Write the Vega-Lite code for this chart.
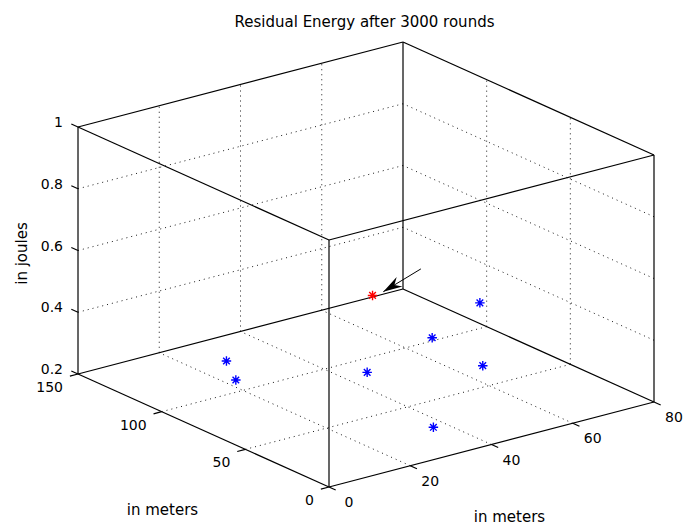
{
  "$schema": "https://vega.github.io/schema/vega-lite/v6.json",
  "width": 689,
  "height": 529,
  "padding": 0,
  "autosize": {"type": "none"},
  "background": "white",
  "config": {"view": {"stroke": null}},
  "title": {
    "text": "Residual Energy after 3000 rounds",
    "font": "DejaVu Sans",
    "fontSize": 15,
    "fontWeight": "normal",
    "color": "#000000",
    "anchor": "middle",
    "dx": 20,
    "dy": 34
  },
  "datasets": {
    "segments": [
      {"kind": "box", "x0": 0, "y0": 0, "z0": 0.2, "x1": 80, "y1": 0, "z1": 0.2},
      {"kind": "box", "x0": 0, "y0": 0, "z0": 0.2, "x1": 0, "y1": 150, "z1": 0.2},
      {"kind": "box", "x0": 80, "y0": 0, "z0": 0.2, "x1": 80, "y1": 150, "z1": 0.2},
      {"kind": "box", "x0": 0, "y0": 150, "z0": 0.2, "x1": 80, "y1": 150, "z1": 0.2},
      {"kind": "box", "x0": 0, "y0": 0, "z0": 1, "x1": 80, "y1": 0, "z1": 1},
      {"kind": "box", "x0": 0, "y0": 0, "z0": 1, "x1": 0, "y1": 150, "z1": 1},
      {"kind": "box", "x0": 80, "y0": 0, "z0": 1, "x1": 80, "y1": 150, "z1": 1},
      {"kind": "box", "x0": 0, "y0": 150, "z0": 1, "x1": 80, "y1": 150, "z1": 1},
      {"kind": "box", "x0": 0, "y0": 0, "z0": 0.2, "x1": 0, "y1": 0, "z1": 1},
      {"kind": "box", "x0": 80, "y0": 0, "z0": 0.2, "x1": 80, "y1": 0, "z1": 1},
      {"kind": "box", "x0": 0, "y0": 150, "z0": 0.2, "x1": 0, "y1": 150, "z1": 1},
      {"kind": "box", "x0": 80, "y0": 150, "z0": 0.2, "x1": 80, "y1": 150, "z1": 1},

      {"kind": "grid", "x0": 20, "y0": 0, "z0": 0.2, "x1": 20, "y1": 150, "z1": 0.2},
      {"kind": "grid", "x0": 40, "y0": 0, "z0": 0.2, "x1": 40, "y1": 150, "z1": 0.2},
      {"kind": "grid", "x0": 60, "y0": 0, "z0": 0.2, "x1": 60, "y1": 150, "z1": 0.2},
      {"kind": "grid", "x0": 0, "y0": 50, "z0": 0.2, "x1": 80, "y1": 50, "z1": 0.2},
      {"kind": "grid", "x0": 0, "y0": 100, "z0": 0.2, "x1": 80, "y1": 100, "z1": 0.2},
      {"kind": "grid", "x0": 20, "y0": 150, "z0": 0.2, "x1": 20, "y1": 150, "z1": 1},
      {"kind": "grid", "x0": 40, "y0": 150, "z0": 0.2, "x1": 40, "y1": 150, "z1": 1},
      {"kind": "grid", "x0": 60, "y0": 150, "z0": 0.2, "x1": 60, "y1": 150, "z1": 1},
      {"kind": "grid", "x0": 0, "y0": 150, "z0": 0.4, "x1": 80, "y1": 150, "z1": 0.4},
      {"kind": "grid", "x0": 0, "y0": 150, "z0": 0.6, "x1": 80, "y1": 150, "z1": 0.6},
      {"kind": "grid", "x0": 0, "y0": 150, "z0": 0.8, "x1": 80, "y1": 150, "z1": 0.8},
      {"kind": "grid", "x0": 80, "y0": 50, "z0": 0.2, "x1": 80, "y1": 50, "z1": 1},
      {"kind": "grid", "x0": 80, "y0": 100, "z0": 0.2, "x1": 80, "y1": 100, "z1": 1},
      {"kind": "grid", "x0": 80, "y0": 0, "z0": 0.4, "x1": 80, "y1": 150, "z1": 0.4},
      {"kind": "grid", "x0": 80, "y0": 0, "z0": 0.6, "x1": 80, "y1": 150, "z1": 0.6},
      {"kind": "grid", "x0": 80, "y0": 0, "z0": 0.8, "x1": 80, "y1": 150, "z1": 0.8},

      {"kind": "tick", "x0": 0, "y0": 0, "z0": 0.2, "x1": 0, "y1": -4, "z1": 0.2},
      {"kind": "tick", "x0": 20, "y0": 0, "z0": 0.2, "x1": 20, "y1": -4, "z1": 0.2},
      {"kind": "tick", "x0": 40, "y0": 0, "z0": 0.2, "x1": 40, "y1": -4, "z1": 0.2},
      {"kind": "tick", "x0": 60, "y0": 0, "z0": 0.2, "x1": 60, "y1": -4, "z1": 0.2},
      {"kind": "tick", "x0": 80, "y0": 0, "z0": 0.2, "x1": 80, "y1": -4, "z1": 0.2},
      {"kind": "tick", "x0": 0, "y0": 0, "z0": 0.2, "x1": -2, "y1": 0, "z1": 0.2},
      {"kind": "tick", "x0": 0, "y0": 50, "z0": 0.2, "x1": -2, "y1": 50, "z1": 0.2},
      {"kind": "tick", "x0": 0, "y0": 100, "z0": 0.2, "x1": -2, "y1": 100, "z1": 0.2},
      {"kind": "tick", "x0": 0, "y0": 150, "z0": 0.2, "x1": -2, "y1": 150, "z1": 0.2},
      {"kind": "tick", "x0": 0, "y0": 150, "z0": 0.2, "x1": 0, "y1": 154, "z1": 0.2},
      {"kind": "tick", "x0": 0, "y0": 150, "z0": 0.4, "x1": 0, "y1": 154, "z1": 0.4},
      {"kind": "tick", "x0": 0, "y0": 150, "z0": 0.6, "x1": 0, "y1": 154, "z1": 0.6},
      {"kind": "tick", "x0": 0, "y0": 150, "z0": 0.8, "x1": 0, "y1": 154, "z1": 0.8},
      {"kind": "tick", "x0": 0, "y0": 150, "z0": 1, "x1": 0, "y1": 154, "z1": 1}
    ],
    "tickLabels": [
      {"axis": "x", "text": "0", "x0": 0, "y0": 0, "z0": 0.2},
      {"axis": "x", "text": "20", "x0": 20, "y0": 0, "z0": 0.2},
      {"axis": "x", "text": "40", "x0": 40, "y0": 0, "z0": 0.2},
      {"axis": "x", "text": "60", "x0": 60, "y0": 0, "z0": 0.2},
      {"axis": "x", "text": "80", "x0": 80, "y0": 0, "z0": 0.2},
      {"axis": "y", "text": "0", "x0": 0, "y0": 0, "z0": 0.2},
      {"axis": "y", "text": "50", "x0": 0, "y0": 50, "z0": 0.2},
      {"axis": "y", "text": "100", "x0": 0, "y0": 100, "z0": 0.2},
      {"axis": "y", "text": "150", "x0": 0, "y0": 150, "z0": 0.2},
      {"axis": "z", "text": "0.2", "x0": 0, "y0": 150, "z0": 0.2},
      {"axis": "z", "text": "0.4", "x0": 0, "y0": 150, "z0": 0.4},
      {"axis": "z", "text": "0.6", "x0": 0, "y0": 150, "z0": 0.6},
      {"axis": "z", "text": "0.8", "x0": 0, "y0": 150, "z0": 0.8},
      {"axis": "z", "text": "1", "x0": 0, "y0": 150, "z0": 1}
    ],
    "axisTitles": [
      {"axis": "x", "text": "in meters", "x0": 40, "y0": 0, "z0": 0.2},
      {"axis": "y", "text": "in meters", "x0": 0, "y0": 75, "z0": 0.2},
      {"axis": "z", "text": "in joules", "x0": 0, "y0": 150, "z0": 0.6}
    ],
    "nodes": [
      {"role": "sink", "x0": 72.5, "y0": 150, "z0": 0.205},
      {"role": "sensor", "x0": 27.6, "y0": 128.3, "z0": 0.2},
      {"role": "sensor", "x0": 22.5, "y0": 110.3, "z0": 0.2},
      {"role": "sensor", "x0": 45.6, "y0": 87.9, "z0": 0.2},
      {"role": "sensor", "x0": 67.7, "y0": 102.7, "z0": 0.2},
      {"role": "sensor", "x0": 78, "y0": 99.2, "z0": 0.286},
      {"role": "sensor", "x0": 65.9, "y0": 68.1, "z0": 0.2},
      {"role": "sensor", "x0": 36.9, "y0": 27.2, "z0": 0.2}
    ],
    "pointer": [
      {"x0": 84.4, "y0": 150, "z0": 0.25, "x1": 75.15, "y1": 150, "z1": 0.208}
    ]
  },
  "layer": [
    {
      "data": {"name": "segments"},
      "transform": [
        {"filter": "datum.kind === 'grid'"},
        {"calculate": "4.0625*datum.x0 - 1.6733*datum.y0", "as": "h0"},
        {"calculate": "1.0625*datum.x0 + 0.7533*datum.y0 + 308.75*(datum.z0 - 0.2)", "as": "v0"},
        {"calculate": "4.0625*datum.x1 - 1.6733*datum.y1", "as": "h1"},
        {"calculate": "1.0625*datum.x1 + 0.7533*datum.y1 + 308.75*(datum.z1 - 0.2)", "as": "v1"}
      ],
      "mark": {"type": "rule", "color": "#000000", "strokeWidth": 1, "strokeDash": [1, 4], "opacity": 0.9},
      "encoding": {
        "x": {"field": "h0", "type": "quantitative", "scale": {"domain": [-329, 360], "nice": false, "zero": false}, "axis": null},
        "y": {"field": "v0", "type": "quantitative", "scale": {"domain": [-42, 487], "nice": false, "zero": false}, "axis": null},
        "x2": {"field": "h1"},
        "y2": {"field": "v1"}
      }
    },
    {
      "data": {"name": "segments"},
      "transform": [
        {"filter": "datum.kind !== 'grid'"},
        {"calculate": "4.0625*datum.x0 - 1.6733*datum.y0", "as": "h0"},
        {"calculate": "1.0625*datum.x0 + 0.7533*datum.y0 + 308.75*(datum.z0 - 0.2)", "as": "v0"},
        {"calculate": "4.0625*datum.x1 - 1.6733*datum.y1", "as": "h1"},
        {"calculate": "1.0625*datum.x1 + 0.7533*datum.y1 + 308.75*(datum.z1 - 0.2)", "as": "v1"}
      ],
      "mark": {"type": "rule", "color": "#000000", "strokeWidth": 1.2},
      "encoding": {
        "x": {"field": "h0", "type": "quantitative", "scale": {"domain": [-329, 360], "nice": false, "zero": false}, "axis": null},
        "y": {"field": "v0", "type": "quantitative", "scale": {"domain": [-42, 487], "nice": false, "zero": false}, "axis": null},
        "x2": {"field": "h1"},
        "y2": {"field": "v1"}
      }
    },
    {
      "data": {"name": "tickLabels"},
      "transform": [
        {"filter": "datum.axis === 'x'"},
        {"calculate": "4.0625*datum.x0 - 1.6733*datum.y0", "as": "h0"},
        {"calculate": "1.0625*datum.x0 + 0.7533*datum.y0 + 308.75*(datum.z0 - 0.2)", "as": "v0"}
      ],
      "mark": {"type": "text", "font": "DejaVu Sans", "fontSize": 14, "color": "#000000", "align": "center", "baseline": "middle", "dx": 20, "dy": 16},
      "encoding": {
        "x": {"field": "h0", "type": "quantitative", "scale": {"domain": [-329, 360], "nice": false, "zero": false}, "axis": null},
        "y": {"field": "v0", "type": "quantitative", "scale": {"domain": [-42, 487], "nice": false, "zero": false}, "axis": null},
        "text": {"field": "text"}
      }
    },
    {
      "data": {"name": "tickLabels"},
      "transform": [
        {"filter": "datum.axis === 'y'"},
        {"calculate": "4.0625*datum.x0 - 1.6733*datum.y0", "as": "h0"},
        {"calculate": "1.0625*datum.x0 + 0.7533*datum.y0 + 308.75*(datum.z0 - 0.2)", "as": "v0"}
      ],
      "mark": {"type": "text", "font": "DejaVu Sans", "fontSize": 14, "color": "#000000", "align": "right", "baseline": "middle", "dx": -15, "dy": 14},
      "encoding": {
        "x": {"field": "h0", "type": "quantitative", "scale": {"domain": [-329, 360], "nice": false, "zero": false}, "axis": null},
        "y": {"field": "v0", "type": "quantitative", "scale": {"domain": [-42, 487], "nice": false, "zero": false}, "axis": null},
        "text": {"field": "text"}
      }
    },
    {
      "data": {"name": "tickLabels"},
      "transform": [
        {"filter": "datum.axis === 'z'"},
        {"calculate": "4.0625*datum.x0 - 1.6733*datum.y0", "as": "h0"},
        {"calculate": "1.0625*datum.x0 + 0.7533*datum.y0 + 308.75*(datum.z0 - 0.2)", "as": "v0"}
      ],
      "mark": {"type": "text", "font": "DejaVu Sans", "fontSize": 14, "color": "#000000", "align": "right", "baseline": "middle", "dx": -15, "dy": -4},
      "encoding": {
        "x": {"field": "h0", "type": "quantitative", "scale": {"domain": [-329, 360], "nice": false, "zero": false}, "axis": null},
        "y": {"field": "v0", "type": "quantitative", "scale": {"domain": [-42, 487], "nice": false, "zero": false}, "axis": null},
        "text": {"field": "text"}
      }
    },
    {
      "data": {"name": "axisTitles"},
      "transform": [
        {"filter": "datum.axis === 'x'"},
        {"calculate": "4.0625*datum.x0 - 1.6733*datum.y0", "as": "h0"},
        {"calculate": "1.0625*datum.x0 + 0.7533*datum.y0 + 308.75*(datum.z0 - 0.2)", "as": "v0"}
      ],
      "mark": {"type": "text", "font": "DejaVu Sans", "fontSize": 15, "color": "#000000", "align": "center", "baseline": "middle", "dx": 18, "dy": 72},
      "encoding": {
        "x": {"field": "h0", "type": "quantitative", "scale": {"domain": [-329, 360], "nice": false, "zero": false}, "axis": null},
        "y": {"field": "v0", "type": "quantitative", "scale": {"domain": [-42, 487], "nice": false, "zero": false}, "axis": null},
        "text": {"field": "text"}
      }
    },
    {
      "data": {"name": "axisTitles"},
      "transform": [
        {"filter": "datum.axis === 'y'"},
        {"calculate": "4.0625*datum.x0 - 1.6733*datum.y0", "as": "h0"},
        {"calculate": "1.0625*datum.x0 + 0.7533*datum.y0 + 308.75*(datum.z0 - 0.2)", "as": "v0"}
      ],
      "mark": {"type": "text", "font": "DejaVu Sans", "fontSize": 15, "color": "#000000", "align": "center", "baseline": "middle", "dx": -41, "dy": 79},
      "encoding": {
        "x": {"field": "h0", "type": "quantitative", "scale": {"domain": [-329, 360], "nice": false, "zero": false}, "axis": null},
        "y": {"field": "v0", "type": "quantitative", "scale": {"domain": [-42, 487], "nice": false, "zero": false}, "axis": null},
        "text": {"field": "text"}
      }
    },
    {
      "data": {"name": "axisTitles"},
      "transform": [
        {"filter": "datum.axis === 'z'"},
        {"calculate": "4.0625*datum.x0 - 1.6733*datum.y0", "as": "h0"},
        {"calculate": "1.0625*datum.x0 + 0.7533*datum.y0 + 308.75*(datum.z0 - 0.2)", "as": "v0"}
      ],
      "mark": {"type": "text", "font": "DejaVu Sans", "fontSize": 15, "color": "#000000", "align": "center", "baseline": "middle", "angle": 270, "dx": -3, "dy": -56},
      "encoding": {
        "x": {"field": "h0", "type": "quantitative", "scale": {"domain": [-329, 360], "nice": false, "zero": false}, "axis": null},
        "y": {"field": "v0", "type": "quantitative", "scale": {"domain": [-42, 487], "nice": false, "zero": false}, "axis": null},
        "text": {"field": "text"}
      }
    },
    {
      "data": {"name": "pointer"},
      "transform": [
        {"calculate": "4.0625*datum.x0 - 1.6733*datum.y0", "as": "h0"},
        {"calculate": "1.0625*datum.x0 + 0.7533*datum.y0 + 308.75*(datum.z0 - 0.2)", "as": "v0"},
        {"calculate": "4.0625*datum.x1 - 1.6733*datum.y1", "as": "h1"},
        {"calculate": "1.0625*datum.x1 + 0.7533*datum.y1 + 308.75*(datum.z1 - 0.2)", "as": "v1"}
      ],
      "mark": {"type": "rule", "color": "#000000", "strokeWidth": 1},
      "encoding": {
        "x": {"field": "h0", "type": "quantitative", "scale": {"domain": [-329, 360], "nice": false, "zero": false}, "axis": null},
        "y": {"field": "v0", "type": "quantitative", "scale": {"domain": [-42, 487], "nice": false, "zero": false}, "axis": null},
        "x2": {"field": "h1"},
        "y2": {"field": "v1"}
      }
    },
    {
      "data": {"name": "pointer"},
      "transform": [
        {"calculate": "4.0625*datum.x1 - 1.6733*datum.y1", "as": "h1"},
        {"calculate": "1.0625*datum.x1 + 0.7533*datum.y1 + 308.75*(datum.z1 - 0.2)", "as": "v1"}
      ],
      "mark": {"type": "point", "shape": "M0,0L0.65,2.2L0,1.5L-0.65,2.2Z", "filled": true, "color": "#000000", "opacity": 1, "size": 300, "angle": 238.75},
      "encoding": {
        "x": {"field": "h1", "type": "quantitative", "scale": {"domain": [-329, 360], "nice": false, "zero": false}, "axis": null},
        "y": {"field": "v1", "type": "quantitative", "scale": {"domain": [-42, 487], "nice": false, "zero": false}, "axis": null}
      }
    },
    {
      "data": {"name": "nodes"},
      "transform": [
        {"calculate": "4.0625*datum.x0 - 1.6733*datum.y0", "as": "h0"},
        {"calculate": "1.0625*datum.x0 + 0.7533*datum.y0 + 308.75*(datum.z0 - 0.2)", "as": "v0"}
      ],
      "mark": {"type": "point", "shape": "M0,-1L0,1M-1,0L1,0M-0.7,-0.7L0.7,0.7M-0.7,0.7L0.7,-0.7", "filled": false, "strokeWidth": 1.4, "opacity": 1, "size": 90},
      "encoding": {
        "x": {"field": "h0", "type": "quantitative", "scale": {"domain": [-329, 360], "nice": false, "zero": false}, "axis": null},
        "y": {"field": "v0", "type": "quantitative", "scale": {"domain": [-42, 487], "nice": false, "zero": false}, "axis": null},
        "color": {"field": "role", "type": "nominal", "scale": {"domain": ["sensor", "sink"], "range": ["#0000ff", "#ff0000"]}, "legend": null}
      }
    }
  ]
}
